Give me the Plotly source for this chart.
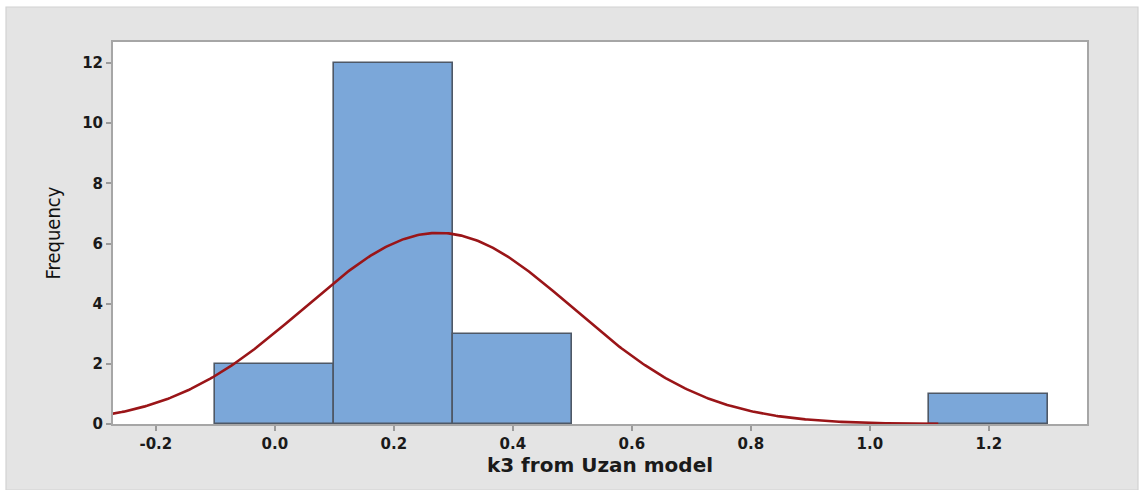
import numpy as np
import plotly.graph_objects as go

# Histogram bins (centers), counts and bin width
bin_centers = [0.0, 0.2, 0.4, 1.2]
counts = [2, 12, 3, 1]
bin_width = 0.2

# Normal fit parameters
fit_mean = 0.275
fit_sd = 0.226
curve_start = -0.3
curve_end = 1.115

x_ticks = [-0.2, 0.0, 0.2, 0.4, 0.6, 0.8, 1.0, 1.2]
y_ticks = [0, 2, 4, 6, 8, 10, 12]

n_obs = sum(counts)
xs = np.linspace(curve_start, curve_end, 400)
ys = n_obs * bin_width / (fit_sd * np.sqrt(2 * np.pi)) * np.exp(-0.5 * ((xs - fit_mean) / fit_sd) ** 2)

W, H = 1140, 490
ML, MR, MT, MB = 113, 53, 42, 66
pw, ph = W - ML - MR, H - MT - MB


def px_x(p):
    return (p - ML) / pw


def px_y(p):
    return (H - MB - p) / ph


fig = go.Figure()
fig.add_trace(go.Bar(
    x=bin_centers, y=counts, width=bin_width,
    marker=dict(color="#7ba7d9", line=dict(color="#4e5866", width=1.6)),
    hoverinfo="x+y",
))
fig.add_trace(go.Scatter(
    x=xs, y=ys, mode="lines",
    line=dict(color="#9a1518", width=2.6),
))

tick_font = dict(family="DejaVu Sans, sans-serif", size=15, color="#1a1a1a", weight="bold")

fig.update_layout(
    width=W, height=H,
    margin=dict(l=ML, r=MR, t=MT, b=MB),
    paper_bgcolor="white",
    plot_bgcolor="white",
    showlegend=False,
    bargap=0,
    shapes=[
        dict(type="rect", xref="paper", yref="paper",
             x0=px_x(6), x1=px_x(1138), y0=px_y(490), y1=px_y(7),
             fillcolor="#e4e4e4", line=dict(color="#d2d2d2", width=1.2), layer="below"),
        dict(type="rect", xref="paper", yref="paper",
             x0=0, x1=1, y0=0, y1=1,
             fillcolor="white", line=dict(width=0), layer="below"),
    ],
    xaxis=dict(
        range=[-0.272, 1.365],
        tickvals=x_ticks,
        ticktext=[f"{v:.1f}" for v in x_ticks],
        ticks="outside", ticklen=5, tickwidth=1.5, tickcolor="#9a9a9a",
        showline=True, linecolor="#a6a6a6", linewidth=2, mirror=True,
        showgrid=False, zeroline=False,
        tickfont=tick_font,
        title=dict(text="k3 from Uzan model", standoff=5,
                   font=dict(family="DejaVu Sans, sans-serif", size=20, color="#1a1a1a", weight="bold")),
    ),
    yaxis=dict(
        range=[0, 12.7],
        tickvals=y_ticks,
        ticks="outside", ticklen=5, tickwidth=1.5, tickcolor="#9a9a9a",
        showline=True, linecolor="#a6a6a6", linewidth=2, mirror=True,
        showgrid=False, zeroline=False,
        tickfont=tick_font,
        title=dict(text="Frequency", standoff=16,
                   font=dict(family="Liberation Sans Narrow, DejaVu Sans Condensed, Roboto, sans-serif",
                             size=20, color="#111111")),
    ),
)

fig.write_html("out.html")
